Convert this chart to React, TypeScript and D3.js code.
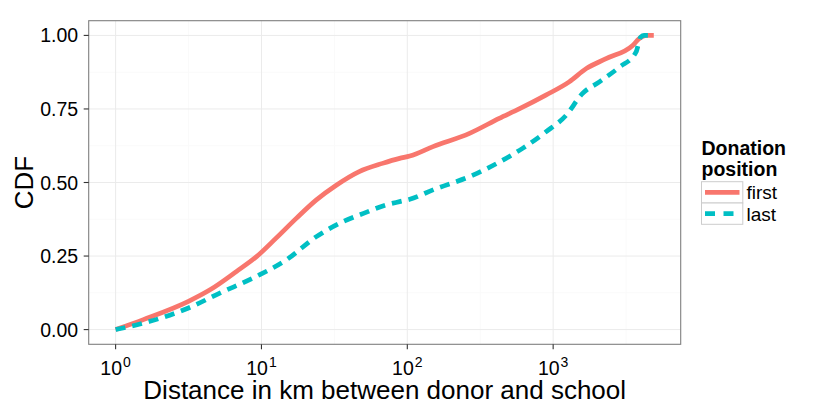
import React from "react";
import * as d3 from "d3";

// Distance (km) and CDF values
const firstDist = [1, 1.55, 3.16, 4.47, 6.76, 9.25, 12.6, 17.4, 23.8, 32.4, 46.8, 67.6, 88.5, 104, 150, 267, 427, 589, 891, 1288, 1683, 2307, 3508, 3890, 4335, 4898];
const firstCdf = [0, 0.034, 0.096, 0.136, 0.198, 0.248, 0.311, 0.379, 0.441, 0.49, 0.537, 0.565, 0.582, 0.59, 0.622, 0.667, 0.718, 0.751, 0.797, 0.842, 0.887, 0.921, 0.966, 0.989, 1.0, 1.0];

const lastDist = [1, 1.72, 3.16, 5.18, 9.25, 14.8, 23.8, 36.3, 50.1, 71.8, 88.5, 104, 150, 282, 452, 617, 891, 1230, 1585, 2075, 2844, 3698, 3981, 4217, 4898];
const lastCdf = [0, 0.028, 0.0735, 0.124, 0.181, 0.237, 0.316, 0.367, 0.395, 0.424, 0.435, 0.443, 0.475, 0.525, 0.576, 0.616, 0.672, 0.729, 0.802, 0.842, 0.892, 0.943, 0.994, 1.0, 1.0];

const seriesNames = ["first", "last"];
const seriesColors = ["#F8766D", "#00BFC4"];
const yTicks = [0, 0.25, 0.5, 0.75, 1.0];
const yMinor = [0.125, 0.375, 0.625, 0.875];
const xTickExps = [0, 1, 2, 3];
const xMinorExps = [0.5, 1.5, 2.5, 3.5];

const FONT = "'Liberation Sans', Arial, Helvetica, sans-serif";

export default function App() {
  const W = 830, H = 415;
  const left = 88.7, right = 680.7, top = 20.7, bottom = 344.3;

  const dataMin = d3.min([...firstDist, ...lastDist]) as number;
  const dataMax = d3.max([...firstDist, ...lastDist]) as number;
  const lmin = Math.log10(dataMin), lmax = Math.log10(dataMax);
  const pad = (lmax - lmin) * 0.05;
  const x = d3.scaleLog().domain([Math.pow(10, lmin - pad), Math.pow(10, lmax + pad)]).range([left, right]);
  const y = d3.scaleLinear().domain([-0.05, 1.05]).range([bottom, top]);

  const line = d3.line<[number, number]>()
    .x(d => x(d[0]))
    .y(d => y(d[1]))
    .curve(d3.curveMonotoneX);

  const series = [
    firstDist.map((d, i) => [d, firstCdf[i]] as [number, number]),
    lastDist.map((d, i) => [d, lastCdf[i]] as [number, number]),
  ];
  const dashes = [undefined, "10,7"];

  return (
    <svg width={W} height={H} style={{ position: "absolute", left: 0, top: 0, background: "white" }} fontFamily={FONT}>
      <rect x={0} y={0} width={W} height={H} fill="white" />
      {/* minor grid */}
      {yMinor.map(v => (
        <line key={"ym" + v} x1={left} x2={right} y1={y(v)} y2={y(v)} stroke="#fafafa" strokeWidth={1} />
      ))}
      {xMinorExps.map(e => (
        <line key={"xm" + e} y1={top} y2={bottom} x1={x(Math.pow(10, e))} x2={x(Math.pow(10, e))} stroke="#fafafa" strokeWidth={1} />
      ))}
      {/* major grid */}
      {yTicks.map(v => (
        <line key={"yM" + v} x1={left} x2={right} y1={y(v)} y2={y(v)} stroke="#ebebeb" strokeWidth={1} />
      ))}
      {xTickExps.map(e => (
        <line key={"xM" + e} y1={top} y2={bottom} x1={x(Math.pow(10, e))} x2={x(Math.pow(10, e))} stroke="#ebebeb" strokeWidth={1} />
      ))}
      {/* lines */}
      {series.map((s, i) => (
        <path key={seriesNames[i]} d={line(s) || ""} fill="none" stroke={seriesColors[i]} strokeWidth={4.7}
          strokeDasharray={dashes[i]} strokeLinejoin="round" />
      ))}
      {/* panel border */}
      <rect x={left} y={top} width={right - left} height={bottom - top} fill="none" stroke="#7f7f7f" strokeWidth={1.1} />
      {/* y axis */}
      {yTicks.map(v => (
        <g key={"yt" + v}>
          <line x1={left - 5} x2={left} y1={y(v)} y2={y(v)} stroke="#333" strokeWidth={1.1} />
          <text x={left - 10.5} y={y(v) + 7} textAnchor="end" fontSize={19.5} fill="#000">{v.toFixed(2)}</text>
        </g>
      ))}
      {/* x axis */}
      {xTickExps.map(e => {
        const px = x(Math.pow(10, e));
        return (
          <g key={"xt" + e}>
            <line x1={px} x2={px} y1={bottom} y2={bottom + 5} stroke="#333" strokeWidth={1.1} />
            <text x={px} y={375} textAnchor="middle" fontSize={19.5} fill="#000">
              10<tspan fontSize={14} dy={-8} dx={1}>{e}</tspan>
            </text>
          </g>
        );
      })}
      <text x={(left + right) / 2} y={399} textAnchor="middle" fontSize={26} fill="#000">
        Distance in km between donor and school
      </text>
      <text transform={`translate(33,${(top + bottom) / 2}) rotate(-90)`} textAnchor="middle" fontSize={26} fill="#000">
        CDF
      </text>
      {/* legend */}
      <text x={701.5} y={155} fontSize={19.5} fontWeight="bold" fill="#000">Donation</text>
      <text x={701.5} y={176} fontSize={19.5} fontWeight="bold" fill="#000">position</text>
      {seriesNames.map((n, i) => {
        const ky = 181.7 + i * 21.3;
        return (
          <g key={"lg" + n}>
            <rect x={701.5} y={ky} width={41.3} height={21.3} fill="white" stroke="#cccccc" strokeWidth={1} />
            <line x1={705} x2={739.5} y1={ky + 10.65} y2={ky + 10.65} stroke={seriesColors[i]} strokeWidth={4.7}
              strokeDasharray={dashes[i] ? "10,8.5" : undefined} />
            <text x={746.5} y={ky + 17.5} fontSize={19} fill="#000">{n}</text>
          </g>
        );
      })}
    </svg>
  );
}
